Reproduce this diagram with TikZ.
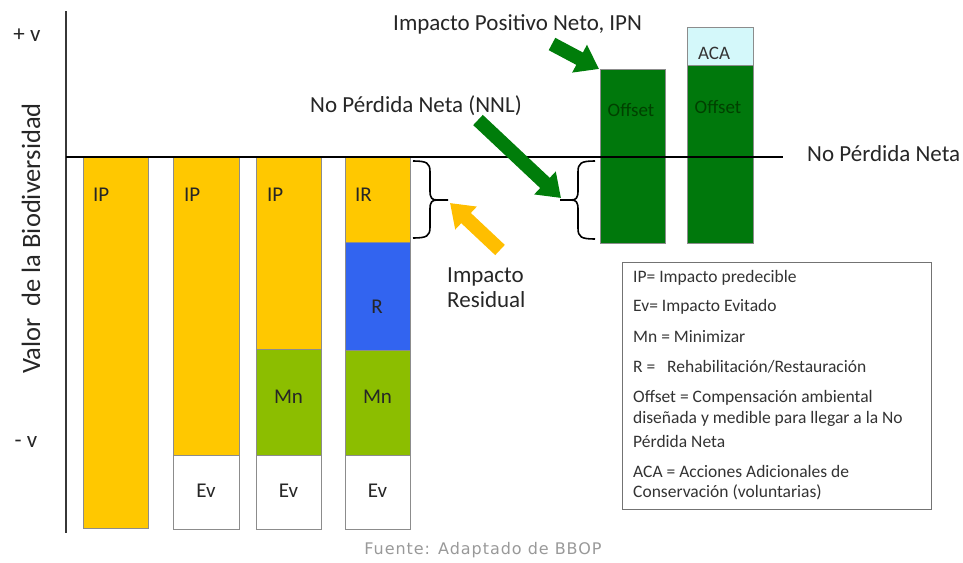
\documentclass[tikz,border=0pt]{standalone}
\usepackage{fontspec}
\setmainfont{Carlito}
\newfontfamily\footfont[LetterSpace=6]{DejaVu Sans}
\usetikzlibrary{arrows.meta}
\definecolor{ipyellow}{RGB}{255,200,0}
\definecolor{mngreen}{RGB}{140,190,0}
\definecolor{rblue}{RGB}{50,100,240}
\definecolor{offgreen}{RGB}{0,120,12}
\definecolor{arrgreen}{RGB}{0,125,10}
\definecolor{arryellow}{RGB}{255,190,0}
\definecolor{acacyan}{RGB}{212,248,250}
\definecolor{axisgray}{RGB}{55,55,55}
\begin{document}
\begin{tikzpicture}[x=1pt,y=-1pt,
  bar/.style={draw=black!45, line width=0.8pt},
  lbl/.style={font=\fontsize{21}{24}\selectfont, text=black!85, inner sep=0},
  offlbl/.style={font=\fontsize{19}{22}\selectfont, text=green!25!black, inner sep=0},
  big/.style={font=\fontsize{23}{26}\selectfont, text=black!85, inner sep=0},
  leg/.style={font=\fontsize{17.5}{21}\selectfont, text=black!80, anchor=west, inner sep=0},
  blockarrow/.style={line width=14pt, -{Triangle[length=22pt,width=30pt]}},
  bracepath/.style={draw=black, line width=1.6pt}
]
\useasboundingbox (0,0) rectangle (963,562);

% bars
\fill[ipyellow] (83,157) rectangle (148,528);
\draw[bar] (83,157) rectangle (148,528);
\fill[ipyellow] (173,157) rectangle (239,455);
\draw[bar] (173,157) rectangle (239,455);
\draw[bar, fill=white] (173,455) rectangle (239,529);
\fill[ipyellow] (256,157) rectangle (321,349);
\draw[bar] (256,157) rectangle (321,349);
\draw[bar, fill=mngreen] (256,349) rectangle (321,455);
\draw[bar, fill=white] (256,455) rectangle (321,529);
\fill[ipyellow] (345,157) rectangle (410,242);
\draw[bar] (345,157) rectangle (410,242);
\draw[bar, fill=rblue] (345,242) rectangle (410,350);
\draw[bar, fill=mngreen] (345,350) rectangle (410,455);
\draw[bar, fill=white] (345,455) rectangle (410,529);

\draw[bar, fill=offgreen] (600,69) rectangle (665,243);
\draw[bar, fill=acacyan] (687,27) rectangle (753,65);
\draw[bar, fill=offgreen] (687,65) rectangle (753,243);

% bar labels
\node[lbl, anchor=west] (ip1) at (93,195) {IP};
\node[lbl, anchor=west] (ip2) at (184,195) {IP};
\node[lbl, anchor=west] (ip3) at (267,195) {IP};
\node[lbl, anchor=west] (ir) at (355,195) {IR};
\node[lbl] (r) at (377,307) {R};
\node[lbl] (mn3) at (288.5,397) {Mn};
\node[lbl] (mn4) at (377.5,397) {Mn};
\node[lbl] (ev2) at (206,491) {Ev};
\node[lbl] (ev3) at (288.5,491) {Ev};
\node[lbl] (ev4) at (377.5,491) {Ev};
\node[offlbl] (off1) at (631,110) {Offset};
\node[offlbl] (off2) at (718,107) {Offset};
\node[offlbl, text=black!80] (aca) at (714,53) {ACA};

% axes
\draw[axisgray, line width=2.5pt] (66,11) -- (66,533);
\draw[black, line width=1.8pt] (66,157) -- (783,157);

% axis labels
\node[big] (pv) at (27,35) {+ v};
\node[big] (mv) at (26,442) {- v};
\node[big, rotate=90, font=\fontsize{26.5}{29}\selectfont] (yl) at (31,238.5) {Valor\ \ de la Biodiversidad};
\node[big, anchor=west] (npn) at (807,154) {No Pérdida Neta};

% braces
\draw[bracepath] (413,161) .. controls (427,161) and (430,163) .. (430,172) -- (430,191)
  .. controls (430,198) and (432,200) .. (437,200) -- (448,200);
\draw[bracepath] (413,238) .. controls (427,238) and (430,236) .. (430,227) -- (430,209)
  .. controls (430,202) and (432,200) .. (437,200);
\coordinate (brace1tip) at (450,203);
\draw[bracepath] (595,161) .. controls (581,161) and (578,163) .. (578,172) -- (578,191)
  .. controls (578,198) and (576,200) .. (571,200) -- (560,200);
\draw[bracepath] (595,239) .. controls (581,239) and (578,237) .. (578,228) -- (578,209)
  .. controls (578,202) and (576,200) .. (571,200);
\coordinate (brace2tip) at (561,198);

% top texts
\node[big, anchor=west] (ipn) at (393,24) {Impacto Positivo Neto, IPN};
\node[big, anchor=west] (nnl) at (310,106) {No Pérdida Neta (NNL)};
\node[big, anchor=west, align=left] (res) at (447,288) {Impacto\\[-1pt]Residual};

% arrows
\coordinate (ipntail) at (552,44);
\coordinate (off1corner) at (599,69);
\draw[blockarrow, arrgreen] (ipntail) -- (off1corner);
\coordinate (nnltail) at (478,120);
\draw[blockarrow, arrgreen] (nnltail) -- (brace2tip);
\coordinate (restail) at (500,250);
\draw[blockarrow, arryellow] (restail) -- (brace1tip);

% legend
\draw[black!55, line width=1pt, fill=white] (622,262) rectangle (931,509);
\node[leg] (l1) at (633,278) {IP= Impacto predecible};
\node[leg] (l2) at (633,307) {Ev= Impacto Evitado};
\node[leg] (l3) at (633,337) {Mn = Minimizar};
\node[leg] (l4) at (633,367) {R =\ \ \ Rehabilitación/Restauración};
\node[leg] (l5) at (633,398) {Offset = Compensación ambiental};
\node[leg] (l6) at (633,419) {diseñada y medible para llegar a la No};
\node[leg] (l7) at (633,441) {Pérdida Neta};
\node[leg] (l8) at (633,471) {ACA = Acciones Adicionales de};
\node[leg] (l9) at (633,492) {Conservación (voluntarias)};

% footer
\node[font=\footfont\fontsize{16}{19}\selectfont, text=black!40, inner sep=0] (src) at (483,550) {Fuente: Adaptado de BBOP};
\end{tikzpicture}
\end{document}
